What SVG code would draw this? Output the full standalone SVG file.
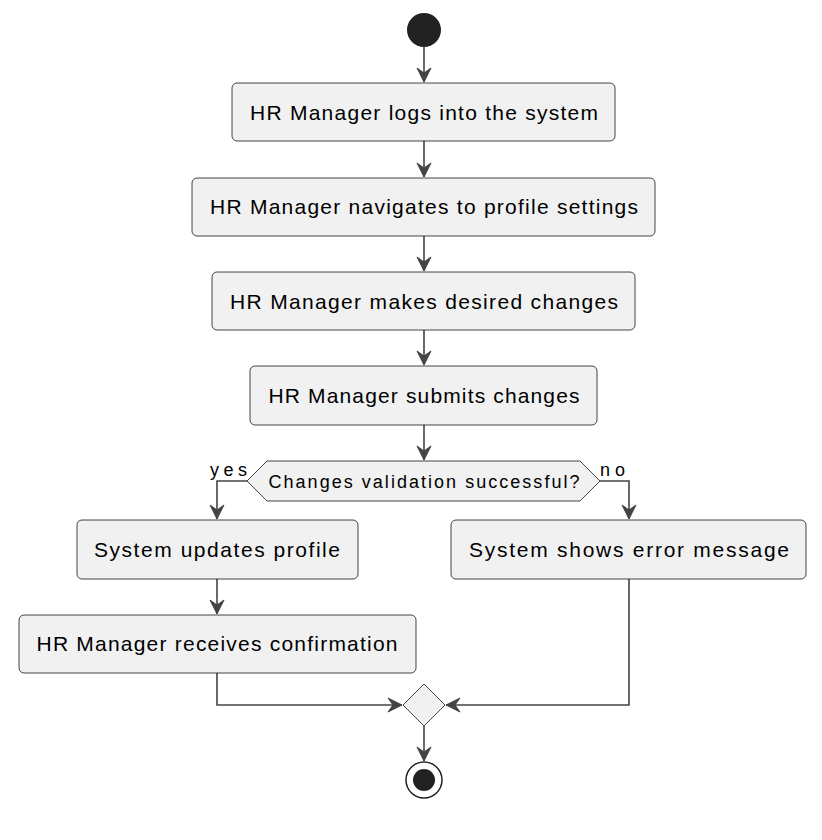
<svg xmlns="http://www.w3.org/2000/svg" width="822" height="840" viewBox="0 0 822 840">
<defs>
<style>
.box{fill:#F1F1F1;stroke:#181818;stroke-width:0.8}
.t{font-family:"Liberation Sans",Arial,sans-serif;font-size:21px;fill:#000;text-anchor:middle}
.s{font-family:"Liberation Sans",Arial,sans-serif;font-size:18px;fill:#000}
.c{fill:none;stroke:#444;stroke-width:1.6}
</style>
<marker id="ah" markerUnits="userSpaceOnUse" viewBox="-16 -9 18 18" refX="0" refY="0" markerWidth="18" markerHeight="18" orient="auto">
<path d="M0,0 L-14,-7 L-9,0 L-14,7 Z" fill="#444" stroke="#444" stroke-width="1"/>
</marker>
</defs>
<rect width="822" height="840" fill="#FFFFFF"/>
<g id="connectors">
<path class="c" d="M424,47 L424,82" marker-end="url(#ah)"/>
<path class="c" d="M424,141 L424,177" marker-end="url(#ah)"/>
<path class="c" d="M424,236 L424,271" marker-end="url(#ah)"/>
<path class="c" d="M424,330 L424,365" marker-end="url(#ah)"/>
<path class="c" d="M424,425 L424,460" marker-end="url(#ah)"/>
<path class="c" d="M247,481 L217,481 L217,519" marker-end="url(#ah)"/>
<path class="c" d="M600,481 L629,481 L629,519" marker-end="url(#ah)"/>
<path class="c" d="M217,579 L217,614" marker-end="url(#ah)"/>
<path class="c" d="M217,673 L217,705 L402,705" marker-end="url(#ah)"/>
<path class="c" d="M629,579 L629,705 L446,705" marker-end="url(#ah)"/>
<path class="c" d="M424,726 L424,761" marker-end="url(#ah)"/>
<text class="s" x="210" y="476" textLength="37" lengthAdjust="spacing">yes</text>
<text class="s" x="600" y="476" textLength="25" lengthAdjust="spacing">no</text>
</g>
<g id="start"><circle cx="424" cy="30" r="17" fill="#222222"/></g>
<g id="n1"><rect class="box" x="232" y="83" width="383" height="58" rx="5"/><text class="t" x="424" y="120" textLength="348" lengthAdjust="spacing">HR Manager logs into the system</text></g>
<g id="n2"><rect class="box" x="192" y="178" width="463" height="58" rx="5"/><text class="t" x="424" y="214" textLength="428" lengthAdjust="spacing">HR Manager navigates to profile settings</text></g>
<g id="n3"><rect class="box" x="212" y="272" width="423" height="58" rx="5"/><text class="t" x="424" y="309" textLength="388" lengthAdjust="spacing">HR Manager makes desired changes</text></g>
<g id="n4"><rect class="box" x="250" y="366" width="347" height="59" rx="5"/><text class="t" x="424" y="403" textLength="311" lengthAdjust="spacing">HR Manager submits changes</text></g>
<g id="decision"><polygon class="box" points="247,481 267,461 580,461 600,481 580,501 267,501"/><text class="s" x="424" y="488" text-anchor="middle" textLength="311" lengthAdjust="spacing">Changes validation successful?</text></g>
<g id="n5"><rect class="box" x="77" y="520" width="281" height="59" rx="5"/><text class="t" x="217" y="557" textLength="246" lengthAdjust="spacing">System updates profile</text></g>
<g id="n6"><rect class="box" x="451" y="520" width="355" height="59" rx="5"/><text class="t" x="629" y="557" textLength="320" lengthAdjust="spacing">System shows error message</text></g>
<g id="n7"><rect class="box" x="19" y="615" width="397" height="58" rx="5"/><text class="t" x="217" y="651" textLength="361" lengthAdjust="spacing">HR Manager receives confirmation</text></g>
<g id="merge"><polygon class="box" points="424,684 445,705 424,726 403,705"/></g>
<g id="end"><circle cx="424" cy="780" r="18" fill="#FFFFFF" stroke="#222222" stroke-width="1.5"/><circle cx="424" cy="780" r="11" fill="#222222"/></g>
</svg>
